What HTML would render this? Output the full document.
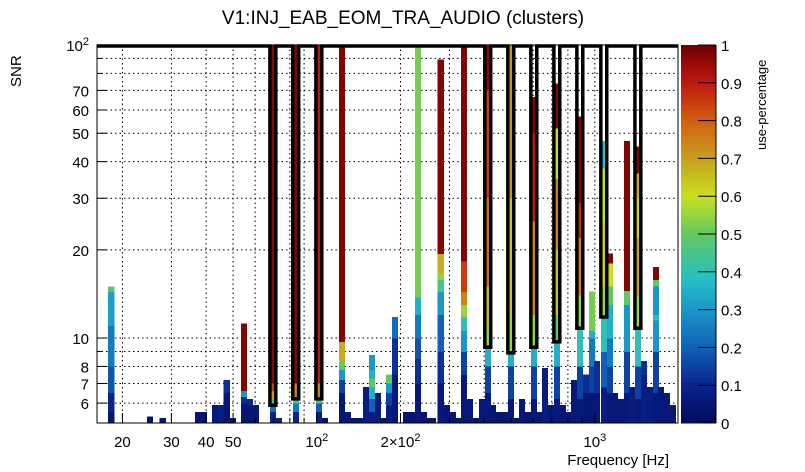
<!DOCTYPE html>
<html><head><meta charset="utf-8"><style>
html,body{margin:0;padding:0;background:#fff;}
svg{display:block;font-family:"Liberation Sans",sans-serif;}
#bars rect,#cbar rect{shape-rendering:crispEdges;}
</style></head><body>
<svg id="chart" width="805" height="472" viewBox="0 0 805 472" xmlns="http://www.w3.org/2000/svg">
<text x="403" y="24" font-size="19" text-anchor="middle">V1:INJ_EAB_EOM_TRA_AUDIO (clusters)</text>
<text transform="translate(21,87) rotate(-90)" font-size="15">SNR</text>
<text x="669" y="465" font-size="15" text-anchor="end">Frequency [Hz]</text>
<text transform="translate(766,150) rotate(-90)" font-size="13">use-percentage</text>
<g id="grid"></g><g id="bars"></g><g id="hl"></g><g id="axes"></g><g id="cbar"></g>
</svg>
<script>
const colFreq=[18.2,25.1,27.9,37.3,39.2,43.0,45.2,47.4,49.9,54.6,57.4,60.3,69.5,73.0,84.0,101.7,106.9,123,129.3,135.9,142.8,150,157.7,165.6,172.7,181.4,190.8,209,219.6,230.8,242.6,254.9,261,279,293.6,308.5,324,338,355,373,392.4,412,429.7,451.5,474.5,498.6,519.7,546,574,603.3,629,661,695,730,767,800,840,883,928,975,1017,1077,1132,1180,1241,1303,1359,1428,1500,1577,1656,1727,1815,1908];
const colSegs=[
[[5.6,0.05],[6.5,0.1],[8,0.18],[11,0.25],[14.4,0.32],[15,0.5]],
[[5.4,0.05]],[[5.33,0.05]],[[5.6,0.05]],[[5.6,0.05]],[[5.9,0.06]],[[5.9,0.08]],[[6.5,0.05],[7.2,0.12]],[[5.33,0.05]],
[[6.0,0.05],[6.3,0.12],[6.6,0.3],[11.2,0.98]],[[5.9,0.05],[6.2,0.1]],[[5.9,0.05]],
[[5.6,0.1],[5.9,0.22],[6.2,0.4],[6.6,0.7],[7,0.85],[100,0.97]],
[[5.33,0.1]],
[[5.6,0.1],[6.0,0.25],[6.3,0.45],[7,0.75],[100,0.97]],
[[5.6,0.08],[6.0,0.2],[6.3,0.45],[7,0.75],[100,0.9]],
[[5.33,0.05]],
[[6.5,0.05],[7.2,0.15],[7.8,0.3],[8.3,0.5],[9.7,0.68],[100,0.98]],
[[5.6,0.05]],[[5.33,0.05]],[[5.33,0.05]],[[6.8,0.08]],
[[5.6,0.08],[6.2,0.2],[6.8,0.35],[7.3,0.5],[7.8,0.35],[8.75,0.3]],
[[6.5,0.07]],[[5.33,0.05]],
[[5.9,0.07],[6.5,0.15],[7.0,0.3],[7.5,0.5]],
[[7.5,0.06],[10,0.12],[11.8,0.22]],
[[5.6,0.05]],[[5.6,0.05]],
[[7,0.06],[8.5,0.12],[10,0.18],[12,0.25],[13.8,0.35],[100,0.52]],
[[5.6,0.05]],[[5.33,0.05]],[[5.33,0.05]],
[[7,0.06],[9,0.12],[12,0.2],[14.4,0.3],[15.8,0.45],[16.7,0.55],[19.4,0.68],[89.4,0.98]],
[[5.9,0.05]],[[5.6,0.05]],[[5.33,0.05]],
[[7.5,0.06],[9,0.15],[10.6,0.3],[11.8,0.4],[13,0.55],[14.4,0.75],[18.3,0.85],[100,0.98]],
[[6.2,0.06]],[[5.33,0.05]],[[6.2,0.06]],
[[6.5,0.06],[8,0.15],[9.2,0.35],[11,0.55],[15,0.65],[30,0.78],[70,0.85],[100,0.97]],
[[5.9,0.05]],[[5.6,0.05]],[[5.6,0.05]],
[[6.2,0.06],[8,0.15],[8.8,0.35],[12,0.55],[30,0.65],[100,0.72]],
[[5.33,0.05]],[[6.2,0.06]],[[5.6,0.05]],
[[6.2,0.06],[8,0.15],[9.2,0.35],[12,0.55],[25,0.75],[50,0.9],[66.5,0.98]],
[[5.6,0.05]],[[7.9,0.07]],[[5.9,0.05]],
[[6.2,0.06],[8,0.15],[9.7,0.35],[12,0.5],[20,0.65],[35,0.75],[52,0.6],[74,0.98]],
[[5.9,0.05]],[[5.6,0.05]],[[7.2,0.06]],
[[6.2,0.06],[8,0.15],[10.8,0.4],[14,0.55],[22,0.75],[29,0.88],[57,0.98]],
[[6.5,0.05],[7.5,0.12]],
[[6.5,0.05],[8,0.15],[10,0.25],[10.6,0.35],[14.4,0.52]],
[[6.5,0.06],[8.35,0.12]],
[[6.8,0.08],[9,0.2],[11.8,0.4],[15,0.55],[25,0.62],[38,0.6],[47,0.38]],
[[6.5,0.06],[8,0.15],[10,0.25],[13,0.35],[15,0.5],[18,0.6],[19.4,0.98]],
[[6.5,0.06]],[[6.2,0.06]],
[[6.5,0.06],[9,0.15],[13,0.3],[14.5,0.5],[47,0.98]],
[[6.8,0.07]],
[[6.2,0.06],[8,0.15],[10.8,0.4],[14,0.55],[22,0.7],[30,0.62],[36.5,0.68],[45,0.98]],
[[7.5,0.08],[8.35,0.12]],[[6.8,0.07]],
[[6.5,0.06],[9,0.15],[11.5,0.3],[12,0.4],[15,0.3],[15.8,0.5],[17.5,0.98]],
[[6.8,0.06]],[[6.5,0.06]],[[5.9,0.05]]
];
const hlFreq=[69.5,84.0,101.7,412,498.6,603.3,730,883,1077,1428];
const hlBottom=[5.9,6.2,6.2,9.3,8.9,9.3,9.7,10.8,11.8,10.8];
const xTickVals=[20,30,40,50,100,200,1000];
const xTickText=["20","30","40","50","10^2","2×10^2","10^3"];
const yTickVals=[6,7,8,10,20,30,40,50,60,70,100];
const yTickText=["6","7","8","10","20","30","40","50","60","70","10^2"];
const cbTicks=[0,0.1,0.2,0.3,0.4,0.5,0.6,0.7,0.8,0.9,1];

const NS="http://www.w3.org/2000/svg";
const L=97,R=678,T=45,B=423,XMIN=16.2,XMAX=1991,YMIN=5.13,YMAX=100;
function xs(f){return L+(Math.log10(f)-Math.log10(XMIN))/(Math.log10(XMAX)-Math.log10(XMIN))*(R-L);}
function ys(v){return B-(Math.log10(v)-Math.log10(YMIN))/(Math.log10(YMAX)-Math.log10(YMIN))*(B-T);}
const stops=[[0,[0,10,90]],[0.1,[10,35,140]],[0.2,[16,96,184]],[0.3,[26,150,200]],[0.38,[38,190,200]],[0.5,[96,200,96]],[0.6,[200,224,32]],[0.7,[200,160,32]],[0.8,[208,96,16]],[0.9,[192,24,16]],[1,[112,0,0]]];
function pal(u){u=Math.max(0,Math.min(1,u));for(let i=1;i<stops.length;i++){if(u<=stops[i][0]){const a=stops[i-1],b=stops[i],t=(u-a[0])/(b[0]-a[0]);const c=a[1].map((v,k)=>Math.round(v+(b[1][k]-v)*t));return `rgb(${c[0]},${c[1]},${c[2]})`;}}return 'rgb(112,0,0)';}
function mk(tag,attrs,parent){const e=document.createElementNS(NS,tag);for(const k in attrs)e.setAttribute(k,attrs[k]);parent.appendChild(e);return e;}
function supText(parent,x,y,txt,anchor,name){
  const t=mk('text',{x:x,y:y,'font-size':15,'text-anchor':anchor},parent);
  
  
  const p=txt.split('^');
  t.appendChild(document.createTextNode(p[0]));
  if(p[1]){const s=mk('tspan',{dy:-6,'font-size':11},t);s.textContent=p[1];}
}
const grid=document.getElementById('grid'),bars=document.getElementById('bars'),hl=document.getElementById('hl'),axes=document.getElementById('axes'),cbar=document.getElementById('cbar');
const gx=[20,30,40,50,60,70,80,90,100,200,300,400,500,600,700,800,900,1000];
gx.forEach(f=>{const l=mk('line',{x1:xs(f),x2:xs(f),y1:T,y2:B,stroke:'#000','stroke-width':1,'stroke-dasharray':'1.5,3'},grid);

});
const gy=[6,7,8,9,10,20,30,40,50,60,70,80,90];
gy.forEach(v=>{const l=mk('line',{x1:L,x2:R,y1:ys(v),y2:ys(v),stroke:'#000','stroke-width':1,'stroke-dasharray':'1.5,3'},grid);

});
const bw=5.9;
colFreq.forEach((f,i)=>{let lo=YMIN;const x=xs(f)-bw/2;
  colSegs[i].forEach(s=>{const top=Math.min(s[0],YMAX);if(top<=lo)return;
    const r=mk('rect',{x:x,y:ys(top),width:bw+0.3,height:ys(lo)-ys(top)+0.3,fill:pal(s[1])},bars);
    
    
    lo=top;});});
let d=`M${L} 46`;
hlFreq.forEach((f,i)=>{const xl=xs(f)-bw/2,xr=xs(f)+bw/2,yb=ys(hlBottom[i]);d+=` L${xl} 46 L${xl} ${yb} L${xr} ${yb} L${xr} 46`;});
d+=` L${R} 46`;
const pth=mk('path',{d:d,fill:'none',stroke:'#000','stroke-width':3.5,'stroke-linejoin':'miter'},hl);


const fr=mk('rect',{x:L,y:T,width:R-L,height:B-T,fill:'none',stroke:'#000','stroke-width':1},axes);


for(let dec=10;dec<=1000;dec*=10){for(let m=1;m<10;m++){const f=dec*m;if(f<XMIN||f>XMAX)continue;const major=xTickVals.includes(f);const len=major?10:5;
 const t=mk('line',{x1:xs(f),x2:xs(f),y1:B,y2:B-len,stroke:'#000'},axes);
 
 }}
for(let dec=1;dec<=100;dec*=10){for(let m=1;m<10;m++){const v=dec*m;if(v<YMIN||v>YMAX)continue;const major=yTickVals.includes(v);const len=major?10:5;
 const t=mk('line',{x1:L,x2:L+len,y1:ys(v),y2:ys(v),stroke:'#000'},axes);
 
 }}
xTickVals.forEach((f,i)=>supText(axes,xs(f),447,xTickText[i],'middle','x-tick-label'));
yTickVals.forEach((v,i)=>supText(axes,89,ys(v)+6,yTickText[i],'end','y-tick-label'));
const CL=681,CR=716;
for(let k=0;k<100;k++){const u=(k+0.5)/100;const y0=B-(k+1)/100*(B-T);
 const r=mk('rect',{x:CL,y:y0,width:CR-CL,height:(B-T)/100+0.5,fill:pal(u)},cbar);
 
 }
const cf=mk('line',{x1:CR,x2:CR,y1:T,y2:B,stroke:'#000'},cbar);


cbTicks.forEach(u=>{const y=B-u*(B-T);
 const t=mk('line',{x1:CR,x2:CR-18,y1:y,y2:y,stroke:'#000'},cbar);
 
 
 const tx=mk('text',{x:CR+5,y:y+6,'font-size':15},cbar);
 
 
 tx.textContent=String(u);});
</script>
</body></html>
